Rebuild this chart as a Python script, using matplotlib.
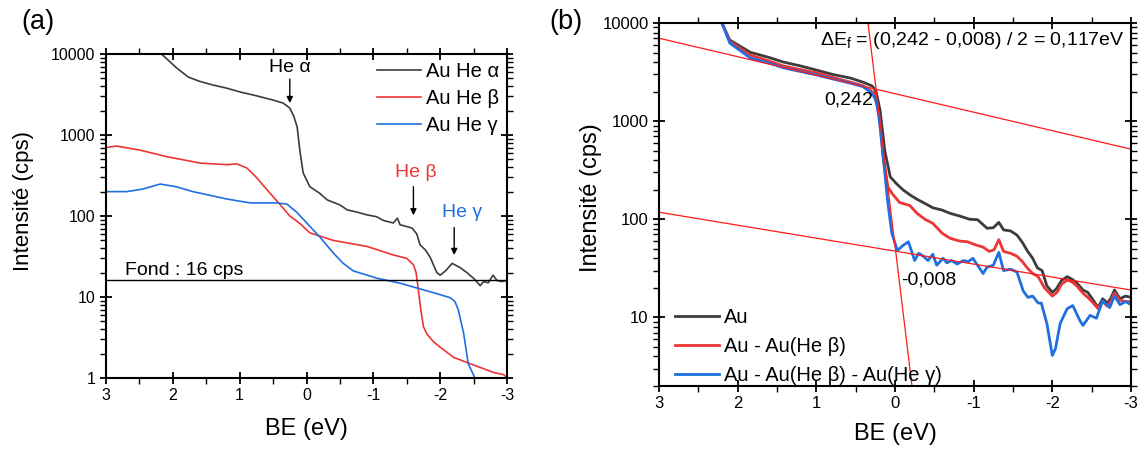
import matplotlib
matplotlib.use("Agg")
import matplotlib.pyplot as plt
from matplotlib.ticker import LogLocator, MultipleLocator, FuncFormatter, NullFormatter

plt.rcParams['font.family'] = ['Liberation Sans', 'DejaVu Sans']
plt.rcParams['axes.unicode_minus'] = False
plt.rcParams['mathtext.default'] = 'regular'

# ---- panel (a) : raw spectra ----
be_alpha = [2.30, 2.17, 1.95, 1.77, 1.60, 1.40, 1.20, 0.99, 0.75, 0.50, 0.35, 0.25, 0.19, 0.14, 0.10,
            0.05, -0.05, -0.20, -0.31, -0.50, -0.61, -0.75, -0.91, -1.05, -1.15, -1.30, -1.36, -1.40,
            -1.58, -1.65, -1.70, -1.78, -1.85, -1.95, -2.00, -2.08, -2.18, -2.30, -2.40, -2.50, -2.60,
            -2.65, -2.72, -2.79, -2.85, -2.92, -3.00]
i_alpha = [14000, 10000, 6800, 5200, 4600, 4140, 3800, 3390, 3050, 2700, 2480, 2150, 1700, 1260, 650,
           340, 230, 190, 158, 137, 119, 112, 103, 98, 88, 82, 94, 78,
           71, 60, 44, 38, 31, 20, 18.6, 21, 26, 23, 20, 17, 13.8,
           15.5, 15, 18.6, 16, 15.5, 16]

be_beta = [3.00, 2.84, 2.49, 2.09, 1.59, 1.19, 1.04, 0.89, 0.75, 0.59, 0.40, 0.25, 0.10, -0.05, -0.40,
           -0.91, -1.30, -1.50, -1.60, -1.64, -1.67, -1.71, -1.75, -1.80, -1.90, -2.00, -2.20, -2.45,
           -2.60, -2.80, -2.95, -3.00]
i_beta = [700, 730, 650, 540, 450, 430, 440, 390, 300, 210, 140, 100, 81, 62, 50,
          42, 33, 30, 25, 20, 13, 7, 4.3, 3.5, 2.8, 2.4, 1.8, 1.5,
          1.35, 1.17, 1.1, 1.0]

be_gamma = [3.00, 2.69, 2.45, 2.19, 1.95, 1.70, 1.19, 0.84, 0.44, 0.29, 0.15, -0.01, -0.20, -0.40,
            -0.55, -0.70, -1.06, -1.40, -1.90, -2.15, -2.22, -2.27, -2.35, -2.42, -2.52, -2.56]
i_gamma = [200, 200, 215, 248, 230, 200, 162, 145, 145, 140, 112, 81, 55, 35,
           26, 21, 17, 14.8, 11.3, 9.8, 8.8, 7, 3.6, 1.5, 1.0, 0.9]

fond = 16

# ---- panel (b) : subtracted spectra ----
be_au = [2.30, 2.20, 2.10, 1.84, 1.60, 1.42, 1.20, 0.99, 0.80, 0.57, 0.41, 0.29, 0.24, 0.19, 0.13,
         0.06, -0.02, -0.10, -0.20, -0.28, -0.38, -0.48, -0.60, -0.70, -0.82, -0.95, -1.05, -1.17,
         -1.25, -1.32, -1.38, -1.47, -1.55, -1.62, -1.68, -1.75, -1.81, -1.87, -1.93, -2.00, -2.05,
         -2.12, -2.19, -2.25, -2.31, -2.39, -2.45, -2.52, -2.58, -2.64, -2.70, -2.74, -2.79, -2.86,
         -2.93, -3.00]
i_au = [14500, 10000, 6700, 5030, 4450, 4000, 3650, 3300, 3000, 2750, 2500, 2280, 2000, 1290, 500,
        270, 230, 200, 175, 160, 145, 131, 124, 115, 108, 100, 99, 81,
        82, 93, 78, 76, 69, 58, 48, 40, 32, 30, 21, 18, 19.5,
        24, 26, 24.5, 22.5, 19, 18, 15, 12.6, 15.5, 14, 15.5, 19, 15.5,
        16.5, 16]

be_sub1 = [2.30, 2.20, 2.10, 1.84, 1.60, 1.42, 1.20, 0.99, 0.80, 0.57, 0.41, 0.32, 0.26, 0.20, 0.15,
           0.09, 0.03, -0.06, -0.19, -0.28, -0.38, -0.48, -0.60, -0.70, -0.82, -0.92, -1.02, -1.12,
           -1.20, -1.26, -1.32, -1.38, -1.47, -1.55, -1.62, -1.68, -1.75, -1.82, -1.90, -2.00, -2.06,
           -2.12, -2.19, -2.25, -2.31, -2.39, -2.45, -2.52, -2.58, -2.64, -2.70, -2.74, -2.79, -2.86,
           -2.93, -3.00]
i_sub1 = [14500, 10000, 6500, 4700, 4100, 3650, 3350, 3100, 2800, 2500, 2300, 2080, 1900, 1100, 430,
          213, 180, 148, 138, 115, 100, 91, 72, 64, 60, 59, 55, 52,
          47, 49, 62, 47, 45, 42, 37, 32, 28, 26, 20, 16.5, 18,
          22, 24, 23, 21, 17.6, 16, 14, 12.3, 14.5, 13, 14.5, 17.8, 15,
          14.5, 14.5]

be_sub2 = [2.30, 2.20, 2.10, 1.84, 1.60, 1.42, 1.20, 0.99, 0.80, 0.57, 0.41, 0.32, 0.27, 0.23, 0.19,
           0.15, 0.09, 0.04, -0.03, -0.10, -0.17, -0.25, -0.30, -0.36, -0.42, -0.48, -0.53, -0.61,
           -0.66, -0.72, -0.79, -0.87, -0.93, -0.99, -1.06, -1.12, -1.17, -1.25, -1.32, -1.38, -1.47,
           -1.55, -1.63, -1.69, -1.75, -1.82, -1.86, -1.93, -2.00, -2.04, -2.10, -2.19, -2.26, -2.35,
           -2.39, -2.48, -2.56, -2.64, -2.73, -2.79, -2.86, -2.93, -3.00]
i_sub2 = [14500, 10000, 6250, 4400, 3900, 3500, 3200, 2950, 2700, 2440, 2250, 2000, 1800, 1520, 900,
          430, 145, 72, 48, 54, 59, 38, 45, 42, 38, 44, 34, 40,
          36, 38, 35, 38, 37, 40, 33, 28, 32.5, 34, 46, 30, 31,
          29, 18.6, 16, 16.5, 14, 14, 8.7, 4.1, 4.8, 8.7, 12.3, 13.2, 9.3,
          8.3, 10.5, 9.8, 14.8, 12.6, 16.6, 13.5, 14.5, 13.5]

# tangent lines used for the Fermi edge estimate
fit_hi_x, fit_hi_y = [3.0, -3.0], [7000, 518]
fit_lo_x, fit_lo_y = [3.0, -3.0], [118, 19]
fit_edge_x, fit_edge_y = [0.343, -0.216], [10000, 2]

BLACK = '#3c3c3c'
RED = '#ee3535'
BLUE = '#1f6fe0'


def style_axes(ax, ymin, fs):
    ax.set_xlim(3, -3)
    ax.set_yscale('log')
    ax.set_ylim(ymin, 10000)
    ax.xaxis.set_major_locator(MultipleLocator(1))
    ax.xaxis.set_minor_locator(MultipleLocator(0.5))
    ax.xaxis.set_major_formatter(FuncFormatter(lambda v, p: '%d' % round(v)))
    ax.yaxis.set_major_locator(LogLocator(base=10, numticks=10))
    ax.yaxis.set_minor_locator(LogLocator(base=10, subs=range(2, 10), numticks=20))
    ax.yaxis.set_major_formatter(FuncFormatter(lambda v, p: '%g' % v))
    ax.yaxis.set_minor_formatter(NullFormatter())
    ax.tick_params(which='major', direction='inout', length=8, width=1.3, labelsize=fs,
                   top=True, right=True)
    ax.tick_params(which='minor', direction='out', length=4, width=1.0, top=True, right=True)
    for s in ax.spines.values():
        s.set_linewidth(1.5)


fig = plt.figure(figsize=(11.42, 4.5), dpi=100)
ax1 = fig.add_axes([106/1142, 1-378/450, 401/1142, 324/450])
ax2 = fig.add_axes([659/1142, 1-386/450, 472/1142, 363/450])

# (a)
style_axes(ax1, 1, 11.5)
ax1.plot(be_alpha, i_alpha, color=BLACK, lw=1.2, label='Au He α')
ax1.plot(be_beta, i_beta, color=RED, lw=1.2, label='Au He β')
ax1.plot(be_gamma, i_gamma, color=BLUE, lw=1.2, label='Au He γ')
ax1.axhline(fond, color='k', lw=1)
ax1.text(2.72, 21, 'Fond : 16 cps', fontsize=14, va='center', ha='left')

arrow = dict(arrowstyle='-|>', color='k', lw=1, mutation_scale=9, shrinkA=0, shrinkB=0)
ax1.annotate('', xy=(0.25, 2480), xytext=(0.25, 4900), arrowprops=arrow)
ax1.text(0.25, 6900, 'He α', fontsize=14, ha='center', va='center')
ax1.annotate('', xy=(-1.60, 102), xytext=(-1.60, 230), arrowprops=arrow)
ax1.text(-1.63, 340, 'He β', fontsize=14, ha='center', va='center', color=RED)
ax1.annotate('', xy=(-2.21, 33), xytext=(-2.21, 72), arrowprops=arrow)
ax1.text(-2.33, 110, 'He γ', fontsize=14, ha='center', va='center', color=BLUE)

ax1.legend(loc='upper left', bbox_to_anchor=(0.675, 0.975), frameon=False, fontsize=14.5,
           handlelength=2.2, handletextpad=0.25, labelspacing=0.4, borderpad=0, borderaxespad=0)
ax1.set_xlabel('BE (eV)', fontsize=17)
ax1.set_ylabel('Intensité (cps)', fontsize=16)
ax1.xaxis.set_label_coords(0.5, -0.125)
ax1.yaxis.set_label_coords(-0.18, 0.546)

# (b)
style_axes(ax2, 2, 12)
ax2.plot(be_au, i_au, color=BLACK, lw=2, label='Au')
ax2.plot(be_sub1, i_sub1, color=RED, lw=2, label='Au - Au(He β)')
ax2.plot(be_sub2, i_sub2, color=BLUE, lw=2, label='Au - Au(He β) - Au(He γ)')
ax2.plot(fit_hi_x, fit_hi_y, color='#ff1a1a', lw=0.9)
ax2.plot(fit_lo_x, fit_lo_y, color='#ff1a1a', lw=0.9)
ax2.plot(fit_edge_x, fit_edge_y, color='#ff1a1a', lw=0.9)
ax2.text(0.28, 1650, '0,242', fontsize=14, ha='right', va='center')
ax2.text(-0.08, 24, '-0,008', fontsize=14, ha='left', va='center')
ax2.text(0.987, 0.953, 'ΔE$_f$ = (0,242 - 0,008) / 2 = 0,117eV', fontsize=14,
         ha='right', va='center', transform=ax2.transAxes)

ax2.legend(loc='upper left', bbox_to_anchor=(0.034, 0.215), frameon=False, fontsize=14.5,
           handlelength=2.2, handletextpad=0.25, labelspacing=0.5, borderpad=0, borderaxespad=0)
ax2.set_xlabel('BE (eV)', fontsize=17)
ax2.set_ylabel('Intensité (cps)', fontsize=17)
ax2.xaxis.set_label_coords(0.5, -0.102)
ax2.yaxis.set_label_coords(-0.12, 0.519)

fig.text(38/1142, 1-22/450, '(a)', fontsize=19.5, ha='center', va='center')
fig.text(566/1142, 1-22/450, '(b)', fontsize=19.5, ha='center', va='center')

fig.savefig('out.png', dpi=100)
